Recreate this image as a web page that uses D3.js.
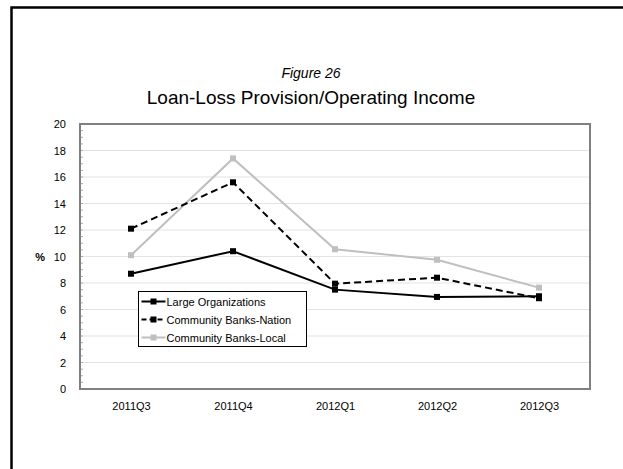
<!DOCTYPE html>
<html>
<head>
<meta charset="utf-8">
<script src="https://cdn.jsdelivr.net/npm/d3@7"></script>
<style>
  body { margin: 0; background: #fff; }
  svg { display: block; font-family: "Liberation Sans", Arial, sans-serif; }
</style>
</head>
<body>
<div id="chartContainer"></div>
<script>
// Figure 26 - loan-loss provision / operating income
const quarters = ["2011Q3", "2011Q4", "2012Q1", "2012Q2", "2012Q3"];
const largeOrgs = [8.7, 10.4, 7.5, 6.95, 7.0];
const cbNation = [12.1, 15.6, 7.95, 8.4, 6.85];
const cbLocal = [10.1, 17.4, 10.55, 9.75, 7.65];
const yTicks = [0, 2, 4, 6, 8, 10, 12, 14, 16, 18, 20];

const seriesNames = ["Large Organizations", "Community Banks-Nation", "Community Banks-Local"];
const seriesData = [largeOrgs, cbNation, cbLocal];
const seriesColor = ["#000", "#000", "#bfbfbf"];
const seriesDash = [null, "7,4", null];

(function() {
    const fullWidth = 623, fullHeight = 469;
    const margin = {top: 124, right: 33, bottom: 80, left: 80};
    const width = fullWidth - margin.left - margin.right;
    const height = fullHeight - margin.top - margin.bottom;

    const svg = d3.select("#chartContainer").append("svg")
        .attr("width", fullWidth)
        .attr("height", fullHeight);

    // outer frame (only top and left show)
    svg.append("path")
        .attr("d", `M11.5,${fullHeight} V7.5 H${fullWidth}`)
        .attr("fill", "none")
        .attr("stroke", "#000")
        .attr("stroke-width", 2.5);

    svg.append("text")
        .attr("x", 311).attr("y", 78)
        .attr("text-anchor", "middle")
        .style("font-size", "14px")
        .style("font-style", "italic")
        .text("Figure 26");
    svg.append("text")
        .attr("x", 311).attr("y", 104)
        .attr("text-anchor", "middle")
        .style("font-size", "19px")
        .text("Loan-Loss Provision/Operating Income");

    const g = svg.append("g")
        .attr("transform", `translate(${margin.left},${margin.top})`);

    const x = d3.scalePoint().domain(quarters).range([0, width]).padding(0.5);
    const y = d3.scaleLinear().domain([0, 20]).range([height, 0]);

    // gridlines
    g.append("g")
        .selectAll("line")
        .data(yTicks.filter(d => d > 0 && d < 20))
        .join("line")
          .attr("x1", 0).attr("x2", width)
          .attr("y1", d => y(d)).attr("y2", d => y(d))
          .attr("stroke", "#e3e3e3")
          .attr("stroke-width", 1);

    // minor ticks on y axis
    g.append("g")
        .selectAll("line")
        .data(d3.range(0, 20.01, 0.5))
        .join("line")
          .attr("x1", 0).attr("x2", 3)
          .attr("y1", d => y(d)).attr("y2", d => y(d))
          .attr("stroke", "#aaa")
          .attr("stroke-width", 1);

    // plot border
    g.append("rect")
        .attr("width", width).attr("height", height)
        .attr("fill", "none")
        .attr("stroke", "#808080")
        .attr("stroke-width", 2);

    // y axis labels
    const yAxis = d3.axisLeft(y).tickValues(yTicks).tickSize(0).tickPadding(14);
    g.append("g").call(yAxis)
        .call(s => s.select(".domain").remove())
        .selectAll("text")
          .style("font-size", "11px")
          .style("font-family", "Liberation Sans, Arial, sans-serif")
          .attr("fill", "#000");

    g.append("text")
        .attr("x", -35).attr("y", y(10) + 4)
        .attr("text-anchor", "end")
        .style("font-size", "11px")
        .style("font-weight", "bold")
        .text("%");

    // x axis labels
    const xAxis = d3.axisBottom(x).tickSize(0).tickPadding(13);
    g.append("g")
        .attr("transform", `translate(0,${height})`)
        .call(xAxis)
        .call(s => s.select(".domain").remove())
        .selectAll("text")
          .style("font-size", "11px")
          .style("font-family", "Liberation Sans, Arial, sans-serif")
          .attr("fill", "#000");

    const line = d3.line()
        .x((d, i) => x(quarters[i]))
        .y(d => y(d));

    // draw Local first so the dark series sit on top
    [2, 1, 0].forEach(k => {
        g.append("path")
            .datum(seriesData[k])
            .attr("d", line)
            .attr("fill", "none")
            .attr("stroke", seriesColor[k])
            .attr("stroke-width", 2)
            .attr("stroke-dasharray", seriesDash[k]);
        g.append("g")
            .selectAll("rect")
            .data(seriesData[k])
            .join("rect")
              .attr("x", (d, i) => x(quarters[i]) - 3)
              .attr("y", d => y(d) - 3)
              .attr("width", 6).attr("height", 6)
              .attr("fill", seriesColor[k]);
    });

    // legend
    const legend = svg.append("g")
        .attr("transform", "translate(138.5,291.5)");
    legend.append("rect")
        .attr("width", 168).attr("height", 55)
        .attr("fill", "#fff")
        .attr("stroke", "#000")
        .attr("stroke-width", 1);
    seriesNames.forEach((name, k) => {
        const row = legend.append("g")
            .attr("transform", `translate(0,${10 + k * 18})`);
        row.append("line")
            .attr("x1", 3).attr("x2", 27)
            .attr("stroke", seriesColor[k])
            .attr("stroke-width", 2)
            .attr("stroke-dasharray", seriesDash[k] ? "5,3" : null);
        row.append("rect")
            .attr("x", 12).attr("y", -3)
            .attr("width", 6).attr("height", 6)
            .attr("fill", seriesColor[k]);
        row.append("text")
            .attr("x", 28).attr("y", 4)
            .style("font-size", "11px")
            .text(name);
    });
})();
</script>
</body>
</html>
